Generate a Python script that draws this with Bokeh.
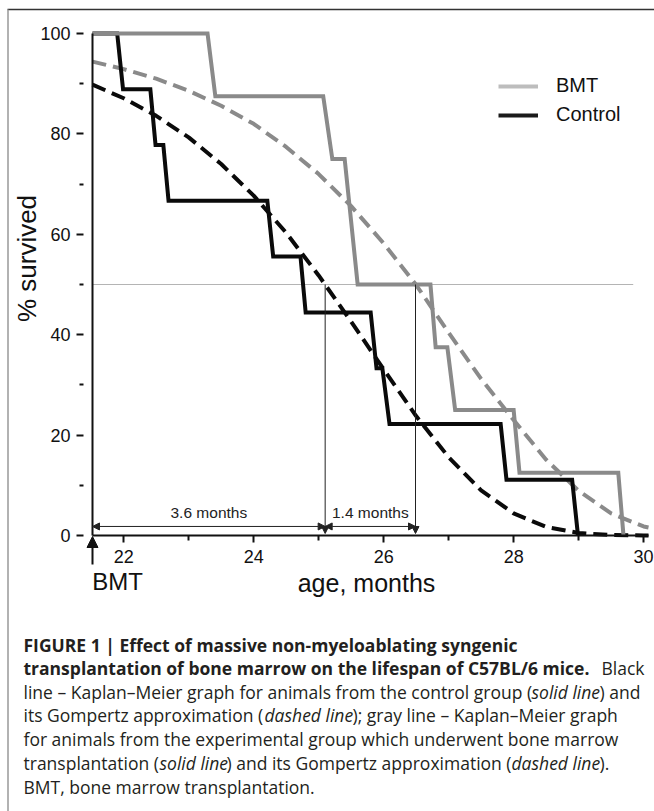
import math
from bokeh.plotting import figure
from bokeh.models import (Range1d, FixedTicker, Label, Arrow, NormalHead,
                          Legend, LegendItem)
from bokeh.embed import file_html
from bokeh.resources import INLINE

# ---------------- data ----------------
# Kaplan-Meier, BMT group (gray solid)
bmt_age = [21.52, 23.29, 23.41, 25.07, 25.21, 25.40, 25.60, 26.72, 26.80,
           26.98, 27.10, 28.00, 28.09, 29.61, 29.69]
bmt_surv = [100, 100, 87.5, 87.5, 75, 75, 50, 50, 37.5, 37.5, 25, 25,
            12.5, 12.5, 0]
# Kaplan-Meier, control group (black solid)
ctrl_age = [21.52, 21.90, 21.99, 22.41, 22.49, 22.61, 22.69, 24.21, 24.30,
            24.72, 24.80, 25.80, 25.89, 25.98, 26.09, 27.80, 27.89, 28.90,
            28.99]
ctrl_surv = [100, 100, 88.9, 88.9, 77.8, 77.8, 66.7, 66.7, 55.6, 55.6,
             44.4, 44.4, 33.3, 33.3, 22.2, 22.2, 11.1, 11.1, 0]
# Gompertz approximations (dashed)
fit_age = [21.52, 22.0, 22.5, 23.0, 23.5, 24.0, 24.5, 25.0, 25.5, 26.0,
           26.5, 27.0, 27.5, 28.0, 28.5, 29.0, 29.5, 30.0, 30.075]
bmt_fit = [94.4, 92.9, 91.0, 88.6, 85.6, 82.0, 77.4, 72.0, 65.6, 58.2,
           49.9, 40.4, 31.2, 23.0, 15.1, 8.9, 4.4, 1.8, 1.6]
ctrl_fit = [89.8, 87.1, 83.6, 79.3, 74.0, 67.7, 60.3, 51.8, 42.6, 33.1,
            23.8, 15.6, 9.0, 4.4, 1.7, 0.5, 0.1, 0.0, 0.0]

bmt_time = 21.52      # age at bone marrow transplantation
ctrl_median = 25.10   # 50 % survival, control
bmt_median = 26.49    # 50 % survival, BMT
half_level = 50
half_line_end = 29.84
x_axis_end = 30.075

x_ticks = [22, 24, 26, 28, 30]
x_minor = [23, 25, 27, 29]
y_ticks = [0, 20, 40, 60, 80, 100]
y_minor = [10, 30, 50, 70, 90]

series_names = ["BMT", "Control"]

# ---------------- layout: the frame covers the whole canvas -------------
W, H = 654, 811
PXL, PXR = 92, 648          # page x of bmt_time .. x_axis_end
PY0, PY100 = 535, 33        # page y of 0 .. 100 %
sx = (x_axis_end - bmt_time) / (PXR - PXL)
sy = 100.0 / (PY0 - PY100)
X0 = bmt_time - PXL * sx
X1 = X0 + W * sx
Y1 = PY0 * sy
Y0 = Y1 - H * sy
BASE_FIX = 9   # alphabetic labels render this many px low


def ax(px):
    """page pixel x -> data x (annotation placement)"""
    return X0 + px * sx


def ay(py):
    """page pixel y -> data y (annotation placement)"""
    return Y1 - py * sy


def ab(py):
    """page baseline y -> data y for alphabetic-baseline labels"""
    return ay(py - BASE_FIX)


GRAY = "#8a8a8a"
BLACK = "#0a0a0a"
TXT = "#111111"
CHART_FONT = "Liberation Sans"

p = figure(width=W, height=H, x_range=Range1d(X0, X1),
           y_range=Range1d(Y0, Y1), output_backend="svg",
           toolbar_location=None, min_border=0, min_border_left=0,
           min_border_right=0, min_border_top=0, min_border_bottom=0,
           background_fill_color="white", border_fill_color="white",
           outline_line_color=None)
p.xgrid.visible = False
p.ygrid.visible = False

# axes, pinned to data locations
xa = p.xaxis[0]
xa.fixed_location = 0
xa.bounds = (bmt_time, x_axis_end)
xa.ticker = FixedTicker(ticks=x_ticks, minor_ticks=x_minor)
xa.axis_line_width = 2
xa.axis_line_color = TXT
xa.major_tick_in = 0
xa.major_tick_out = 7
xa.major_tick_line_width = 2
xa.major_tick_line_color = TXT
xa.minor_tick_in = 0
xa.minor_tick_out = 5
xa.minor_tick_line_width = 2
xa.minor_tick_line_color = TXT
xa.major_label_standoff = 7
xa.major_label_text_font = CHART_FONT
xa.major_label_text_font_size = "18px"
xa.major_label_text_color = TXT

ya = p.yaxis[0]
ya.fixed_location = bmt_time
ya.bounds = (0, 100)
ya.ticker = FixedTicker(ticks=y_ticks, minor_ticks=y_minor)
ya.axis_line_width = 2
ya.axis_line_color = TXT
ya.major_tick_in = -9
ya.major_tick_out = 16
ya.major_tick_line_width = 2
ya.major_tick_line_color = TXT
ya.minor_tick_in = -9
ya.minor_tick_out = 13
ya.minor_tick_line_width = 2
ya.minor_tick_line_color = TXT
ya.major_label_standoff = 6
ya.major_label_text_font = CHART_FONT
ya.major_label_text_font_size = "18px"
ya.major_label_text_color = TXT

# 50 % reference line
p.line([bmt_time, half_line_end], [half_level, half_level],
       line_color="#b4b4b4", line_width=1)

# curves
p.line(fit_age, bmt_fit, line_color=GRAY, line_width=4, line_dash="14 7")
p.line(fit_age, ctrl_fit, line_color=BLACK, line_width=4, line_dash="14 7")
p.line(ctrl_age, ctrl_surv, line_color=BLACK, line_width=4,
       line_join="miter")
p.line(bmt_age, bmt_surv, line_color=GRAY, line_width=4, line_join="miter")


def head(size, col="#222222"):
    return NormalHead(size=size, fill_color=col, line_color=col,
                      line_width=1)


# median drop lines with arrowheads
for xm in (ctrl_median, bmt_median):
    p.add_layout(Arrow(x_start=xm, y_start=half_level, x_end=xm,
                       y_end=0.4, line_width=1, line_color="#222222",
                       end=head(7)))

# interval arrows
arr_y = 1.8
for xs, xe in ((bmt_time, ctrl_median), (ctrl_median, bmt_median)):
    p.add_layout(Arrow(x_start=xs, y_start=arr_y, x_end=xe, y_end=arr_y,
                       line_width=1, line_color="#222222",
                       start=head(7), end=head(7)))
    p.add_layout(Label(x=(xs + xe) / 2, y=ay(512),
                       text=f"{xe - xs:.1f} months", text_align="center",
                       text_baseline="middle", text_font=CHART_FONT,
                       text_font_size="15.5px", text_color="#222222"))

# BMT arrow below the axis
p.add_layout(Arrow(x_start=bmt_time, y_start=ay(564), x_end=bmt_time,
                   y_end=ay(536), line_width=2, line_color=TXT,
                   end=head(11, TXT)))
p.add_layout(Label(x=ax(117), y=ab(590), text="BMT", text_align="center",
                   text_baseline="alphabetic", text_font=CHART_FONT,
                   text_font_size="24px", text_color=TXT))
p.add_layout(Label(x=ax(366), y=ab(591), text="age, months",
                   text_align="center", text_baseline="alphabetic",
                   text_font=CHART_FONT, text_font_size="25px",
                   text_color=TXT))
p.add_layout(Label(x=ax(26), y=ay(258), text="% survived",
                   angle=math.pi / 2, text_align="center",
                   text_baseline="middle", text_font=CHART_FONT,
                   text_font_size="26px", text_color=TXT))

# legend (own swatches, lighter gray as in the reference)
r_b = p.line([X0, X0], [Y0 - 10, Y0 - 10], line_color="#bdbdbd",
             line_width=4)
r_c = p.line([X0, X0], [Y0 - 10, Y0 - 10], line_color="#1a1a1a",
             line_width=4)
legend = Legend(items=[LegendItem(label=series_names[0], renderers=[r_b]),
                       LegendItem(label=series_names[1], renderers=[r_c])],
                location=(498, H - 126), label_text_font=CHART_FONT,
                label_text_font_size="20px", label_text_color=TXT,
                glyph_width=40, glyph_height=20, label_standoff=18,
                spacing=6, padding=0, margin=0, border_line_color=None,
                background_fill_alpha=0)
p.add_layout(legend)

# figure frame lines
p.add_layout(Arrow(x_start=ax(7), y_start=ay(9), x_end=ax(654),
                   y_end=ay(9), end=None, line_color="#333333",
                   line_width=1.5))
p.add_layout(Arrow(x_start=ax(7.5), y_start=ay(9), x_end=ax(7.5),
                   y_end=ay(811), end=None, line_color="#999999",
                   line_width=1.5))

# caption
CAP = "Open Sans"
CAP_SIZE = "17.5px"
CAP_COL = "#231f20"
caption_runs = [
    # (page x, page baseline y, text, style)
    (23, 653, "FIGURE 1 | Effect of massive non-myeloablating syngenic", "bold"),
    (23, 676, "transplantation of bone marrow on the lifespan of C57BL/6 mice.", "bold"),
    (601, 676, "Black", "normal"),
    (23, 700, "line \u2013 Kaplan\u2013Meier graph for animals from the control group (", "normal"),
    (531, 700, "solid line", "italic"),
    (599, 700, ") and", "normal"),
    (23, 723, "its Gompertz approximation (", "normal"),
    (264, 723, "dashed line", "italic"),
    (352, 723, "); gray line \u2013 Kaplan\u2013Meier graph", "normal"),
    (23, 747, "for animals from the experimental group which underwent bone marrow", "normal"),
    (23, 771, "transplantation (", "normal"),
    (159, 771, "solid line", "italic"),
    (226, 771, ") and its Gompertz approximation (", "normal"),
    (511, 771, "dashed line", "italic"),
    (599, 771, ").", "normal"),
    (23, 795, "BMT, bone marrow transplantation.", "normal"),
]
for px, py, txt, style in caption_runs:
    p.add_layout(Label(x=ax(px), y=ab(py), text=txt, text_align="left",
                       text_baseline="alphabetic", text_font=CAP,
                       text_font_size=CAP_SIZE, text_font_style=style,
                       text_color=CAP_COL))

open("out.html", "w").write(file_html(p, INLINE))
